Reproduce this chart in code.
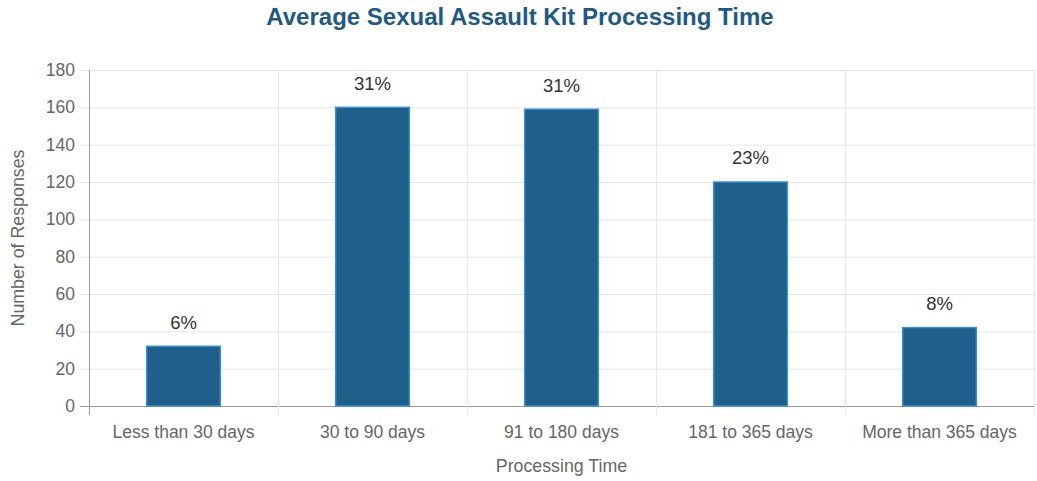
<!DOCTYPE html>
<html>
<head>
<meta charset="utf-8">
<script src="https://cdn.jsdelivr.net/npm/d3@7"></script>
<style>
  body { margin: 0; background: #fff; }
  text { font-family: "Liberation Sans", Arial, sans-serif; }
</style>
</head>
<body>
<div id="chart"></div>
<script>
// Data
const categories = [
  "Less than 30 days",
  "30 to 90 days",
  "91 to 180 days",
  "181 to 365 days",
  "More than 365 days",
];
const responses = [32, 160, 159, 120, 42];
const percentLabels = ["6%", "31%", "31%", "23%", "8%"];
const yTicks = [0, 20, 40, 60, 80, 100, 120, 140, 160, 180];

var width = 1037;
var height = 481;
var margin = { top: 70, right: 3, bottom: 75, left: 89 };

var svg = d3
  .select("#chart")
  .append("svg")
  .attr("width", width)
  .attr("height", height);

var x = d3
  .scaleBand()
  .domain(categories)
  .range([margin.left, width - margin.right]);

var y = d3
  .scaleLinear()
  .domain([0, 180])
  .range([height - margin.bottom, margin.top]);

var barWidth = x.bandwidth() * 0.39;

// Horizontal gridlines (extend left as tick marks)
svg
  .selectAll("hgrid")
  .data(yTicks)
  .enter()
  .append("line")
  .attr("x1", margin.left - 9)
  .attr("x2", width - margin.right)
  .attr("y1", (d) => y(d) + 0.5)
  .attr("y2", (d) => y(d) + 0.5)
  .attr("stroke", (d) => (d === 0 ? "#999" : "#e6e6e6"))
  .attr("stroke-width", 1);

// Vertical gridlines at band boundaries (extend below as tick marks)
var bounds = categories.map((c) => x(c)).concat([width - margin.right]);
svg
  .selectAll("vgrid")
  .data(bounds)
  .enter()
  .append("line")
  .attr("x1", (d) => Math.round(d) + 0.5)
  .attr("x2", (d) => Math.round(d) + 0.5)
  .attr("y1", margin.top)
  .attr("y2", height - margin.bottom + 9)
  .attr("stroke", (d, i) => (i === 0 ? "#999" : "#e6e6e6"))
  .attr("stroke-width", 1);

// Y tick labels
svg
  .selectAll("ylabels")
  .data(yTicks)
  .enter()
  .append("text")
  .attr("x", margin.left - 14)
  .attr("y", (d) => y(d))
  .attr("dy", "0.35em")
  .attr("text-anchor", "end")
  .style("font-size", "17.5px")
  .style("fill", "#666")
  .text((d) => d);

// X tick labels
svg
  .selectAll("xlabels")
  .data(categories)
  .enter()
  .append("text")
  .attr("x", (d) => x(d) + x.bandwidth() / 2)
  .attr("y", height - margin.bottom + 26)
  .attr("dy", "0.35em")
  .attr("text-anchor", "middle")
  .style("font-size", "17.5px")
  .style("fill", "#666")
  .text((d) => d);

// Bars
svg
  .selectAll("bars")
  .data(responses)
  .enter()
  .append("rect")
  .attr("x", (d, i) => x(categories[i]) + (x.bandwidth() - barWidth) / 2)
  .attr("y", (d) => y(d))
  .attr("width", barWidth)
  .attr("height", (d) => y(0) - y(d))
  .attr("fill", "#1f5f8b")
  .attr("stroke", "#3d8fce")
  .attr("stroke-width", 1.5);

// Percentage labels
svg
  .selectAll("pct")
  .data(responses)
  .enter()
  .append("text")
  .attr("x", (d, i) => x(categories[i]) + x.bandwidth() / 2)
  .attr("y", (d) => y(d) - 24)
  .attr("dy", "0.35em")
  .attr("text-anchor", "middle")
  .style("font-size", "18.5px")
  .style("fill", "#333")
  .text((d, i) => percentLabels[i]);

// Axis titles
svg
  .append("text")
  .attr("x", (margin.left + width - margin.right) / 2)
  .attr("y", 466)
  .attr("dy", "0.35em")
  .attr("text-anchor", "middle")
  .style("font-size", "17.8px")
  .style("fill", "#666")
  .text("Processing Time");

svg
  .append("text")
  .attr("transform", "translate(18," + (margin.top + height - margin.bottom) / 2 + ") rotate(-90)")
  .attr("dy", "0.35em")
  .attr("text-anchor", "middle")
  .style("font-size", "17.8px")
  .style("fill", "#666")
  .text("Number of Responses");

// Title
svg
  .append("text")
  .attr("x", 520)
  .attr("y", 17)
  .attr("dy", "0.35em")
  .attr("text-anchor", "middle")
  .style("font-size", "24px")
  .style("font-weight", "bold")
  .style("fill", "#1f5a85")
  .text("Average Sexual Assault Kit Processing Time");
</script>
</body>
</html>
